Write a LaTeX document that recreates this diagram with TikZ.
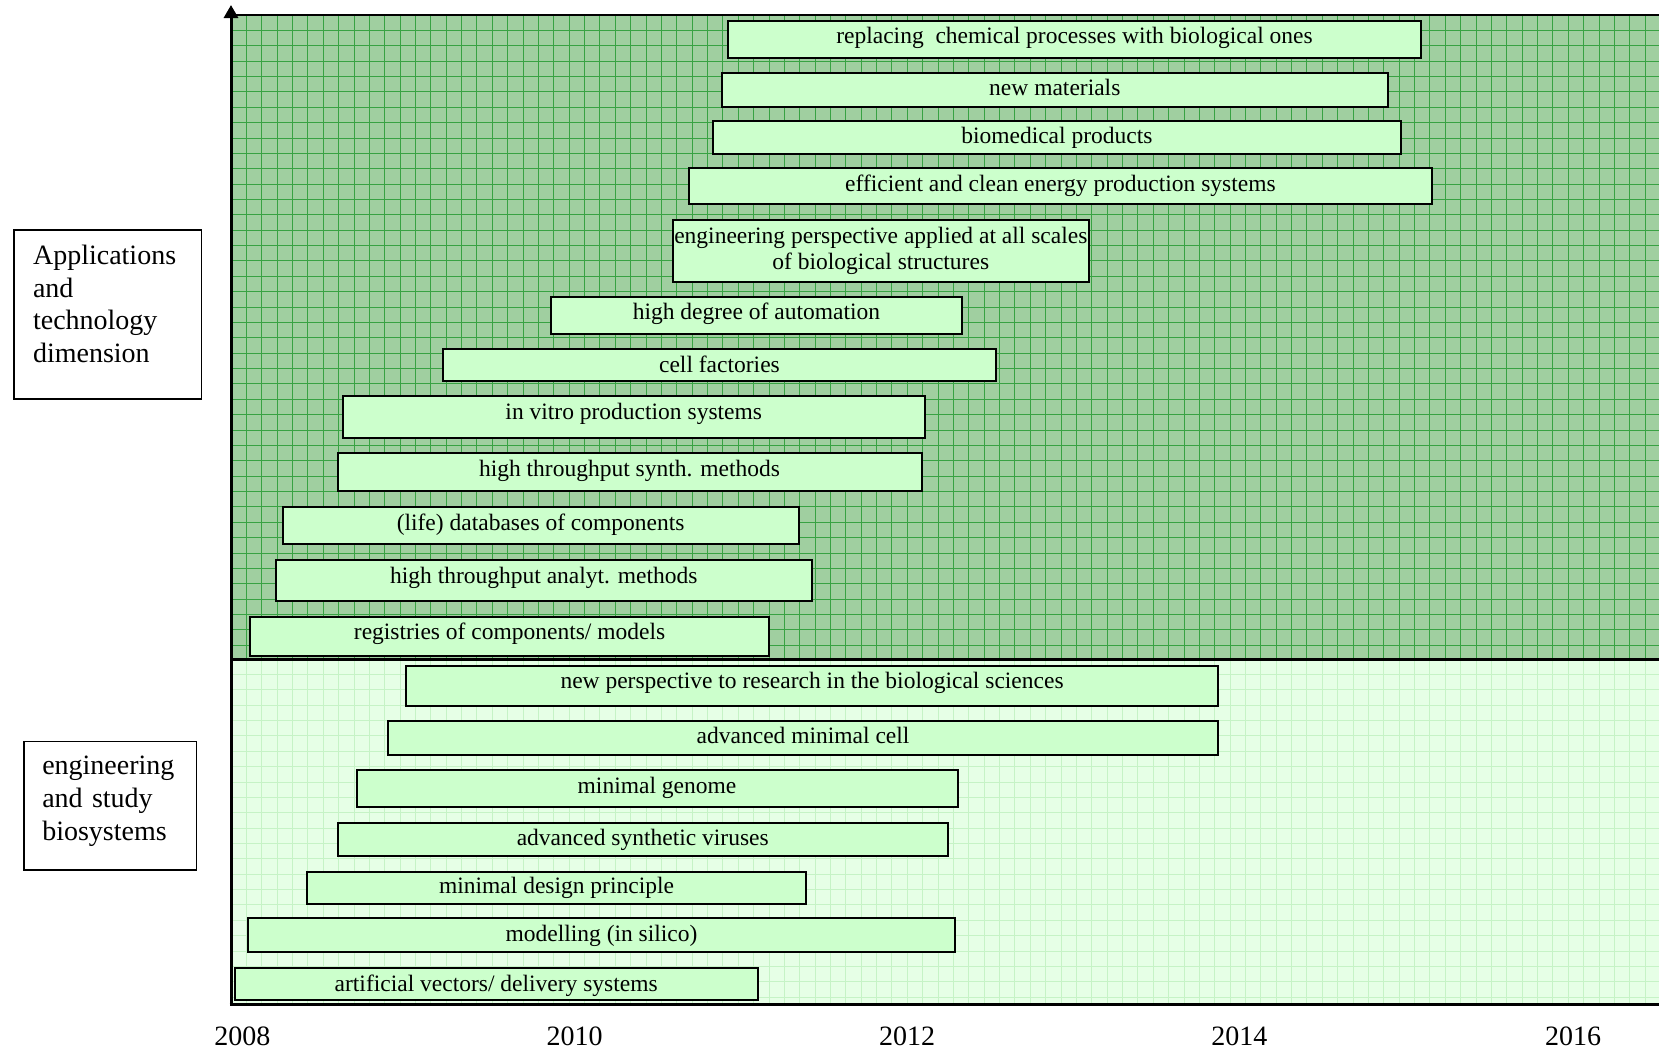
\documentclass[tikz,border=0pt]{standalone}
\usepackage{fontspec}
\setmainfont{Liberation Serif}
\usetikzlibrary{arrows.meta}
\definecolor{upbg}{HTML}{A0CFA0}
\definecolor{upgrid}{HTML}{38A243}
\definecolor{lowbg}{HTML}{E6FFE6}
\definecolor{lowgrid}{HTML}{C6F3C6}
\definecolor{barfill}{HTML}{CCFFCC}
% #1 = raise of the text (pt), #2 = name, #3..#6 = left, top, right, bottom, #7 = text
\newcommand{\tlbox}[7][0]{%
  \node[barbox, text height={17-(#1)}, text depth={6+(#1)}, minimum width={(#5)-(#3)}, minimum height={(#6)-(#4)}] (#2) at ({((#3)+(#5))/2},{((#4)+(#6))/2}) {#7};}
\begin{document}
\begin{tikzpicture}[x=1pt,y=-1pt,
  barbase/.style={draw=black, line width=2pt, fill=barfill, inner sep=0pt, font=\fontsize{23.5}{26.6}\selectfont},
  barbox/.style={barbase},
  catbox/.style={draw=black, line width=1.5pt, fill=white, inner sep=0pt},
  cattext/.style={align=left, inner sep=0pt, font=\fontsize{28}{32.8}\selectfont},
  yearlab/.style={anchor=base, inner sep=0pt, font=\fontsize{28}{32}\selectfont},
  axisline/.style={draw=black, line width=3pt},
  gridup/.style={draw=upgrid, line width=0.9pt},
  gridlow/.style={draw=lowgrid, line width=0.9pt}]
\useasboundingbox (0,0) rectangle (1659,1052);
% panels
\fill[upbg] (231,15) rectangle (1659,659);
\foreach \i in {1,...,92} \draw[gridup] ({231+15.37*\i},15) -- ({231+15.37*\i},659);
\foreach \j in {1,...,41} \draw[gridup] (231,{15+15.37*\j}) -- (1659,{15+15.37*\j});
\fill[lowbg] (231,659) rectangle (1659,1004);
\foreach \i in {1,...,92} \draw[gridlow] ({231+15.37*\i},659) -- ({231+15.37*\i},1004);
\foreach \j in {1,...,22} \draw[gridlow] (231,{659+15.37*\j}) -- (1659,{659+15.37*\j});
% axes
\coordinate (origin) at (231,1004);
\coordinate (ytip) at (231,5);
\coordinate (topL) at (231,15);
\coordinate (topR) at (1659,15);
\coordinate (midL) at (231,659.5);
\coordinate (midR) at (1659,659.5);
\coordinate (botR) at (1659,1004);
\draw[draw=black, line width=2pt] (topL) -- (topR);
\draw[axisline] (midL) -- (midR);
\draw[axisline] ([xshift=-1.5pt]origin) -- (botR);
\draw[axisline, -{Triangle[length=13pt,width=14pt]}] ([yshift=-1.5pt]origin) -- (ytip);
% upper bars
\tlbox[2]{b1}{728}{21}{1421}{58}{replacing~ chemical processes with biological ones}
\tlbox{b2}{721.6}{72.7}{1388}{106.7}{new materials}
\tlbox{b3}{713}{121}{1400.7}{154}{biomedical products}
\tlbox{b4}{688.8}{168.3}{1432}{204.3}{efficient and clean energy production systems}
\node[barbase, align=center, minimum width=415.8, minimum height=61.7] (b5) at (880.8,250.8) {engineering perspective applied at all scales\\of biological structures};
\tlbox[2]{b6}{551.2}{297.3}{961.7}{334.3}{high degree of automation}
\tlbox[-2]{b7}{443.3}{349.1}{995.6}{380.9}{cell factories}
\tlbox[3]{b8}{342.8}{395.7}{924.7}{438}{in vitro production systems}
\tlbox[1]{b9}{337.5}{452.8}{921.5}{490.9}{high throughput synth. methods}
\tlbox{b10}{282.5}{506.8}{798.8}{543.8}{(life) databases of components}
\tlbox[2]{b11}{276.1}{559.7}{811.5}{601}{high throughput analyt. methods}
\tlbox[2]{b12}{250}{616.7}{769.2}{655.7}{registries of components/ models}
% lower bars
\tlbox[3]{b13}{406.3}{666}{1217.8}{705.7}{new perspective to research in the biological sciences}
\tlbox{b14}{388.3}{720.7}{1217.8}{755.4}{advanced minimal cell}
\tlbox[1]{b15}{356.5}{770.2}{957.5}{807.3}{minimal genome}
\tlbox{b16}{337.5}{823.1}{948}{855.9}{advanced synthetic viruses}
\tlbox{b17}{306.8}{871.8}{806.2}{903.5}{minimal design principle}
\tlbox[-1]{b18}{247.6}{918.3}{955.4}{952.2}{modelling (in silico)}
\tlbox[-2]{b19}{234.9}{968.1}{757.5}{999.8}{artificial vectors/ delivery systems}
% category labels
\node[catbox, minimum width=187.4, minimum height=169.3, anchor=north west] (appl) at (13.3,229) {};
\node[cattext, text width=149.4, yshift=10.5pt] (applt) at (appl.center) {Applications\\and\\technology\\dimension};
\node[catbox, minimum width=172.4, minimum height=128.3, anchor=north west] (engi) at (23.3,740.7) {};
\node[cattext, text width=136, yshift=4.2pt] (engit) at (engi.center) {engineering\\and study\\biosystems};
% years
\node[yearlab] (y2008) at (242.3,1045) {2008};
\node[yearlab] (y2010) at (574.5,1045) {2010};
\node[yearlab] (y2012) at (907.2,1045) {2012};
\node[yearlab] (y2014) at (1239.4,1045) {2014};
\node[yearlab] (y2016) at (1573.2,1045) {2016};
\end{tikzpicture}
\end{document}
